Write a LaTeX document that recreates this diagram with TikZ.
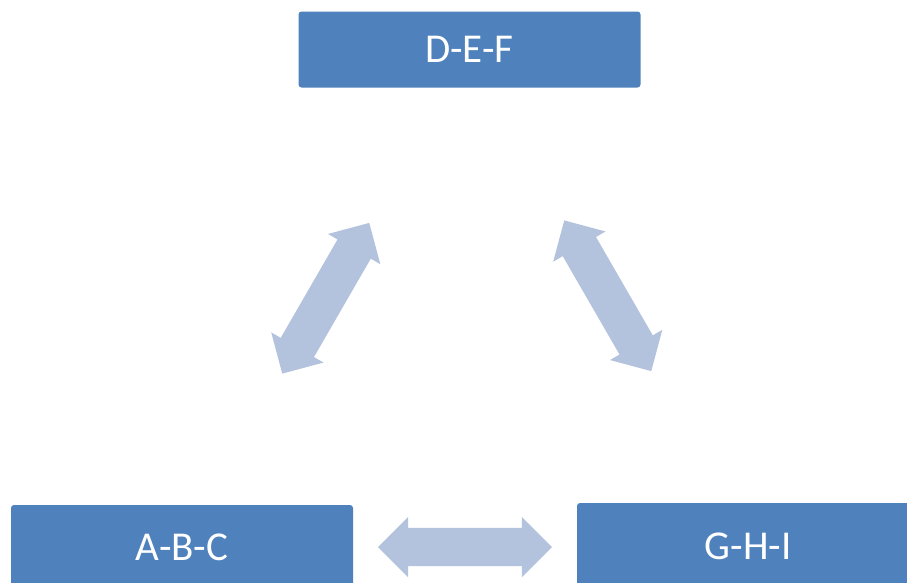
\documentclass[tikz,border=0pt]{standalone}
\usepackage{fontspec}
\setmainfont{Carlito}
\usetikzlibrary{shapes.arrows,calc}

\definecolor{boxblue}{RGB}{79,129,189}
\definecolor{arrowblue}{RGB}{179,194,221}

\begin{document}
\begin{tikzpicture}[
            x = 1pt, y = -1pt, % pixel units, y downwards
            box/.style = {rectangle, rounded corners=3pt, fill=boxblue, text=white,
                          minimum width=342pt, minimum height=76pt, inner sep=0pt,
                          font=\fontsize{41}{49}\selectfont}, % the three boxes
            dblarrow/.style = {double arrow, fill=arrowblue, inner xsep=0pt, inner ysep=19pt,
                          minimum height=174pt, double arrow head extend=11pt,
                          double arrow tip angle=90} % block arrows
        ]
	\useasboundingbox (0,0) rectangle (907,582);
	\clip (0,0) rectangle (907,582);

	\node[box] (DEF) at (469.5,49.5) {D-E-F};
	\node[box, minimum height=84pt] (ABC) at (182,547) {A-B-C};
	\node[box, minimum height=86pt] (GHI) at (748,546) {G-H-I};

	\node[dblarrow, rotate=60] (AD) at ($(ABC)!0.5!(DEF)$) {};
	\node[dblarrow, rotate=-60] (DG) at ($(DEF)!0.5!(GHI)+(-1,-2)$) {};
	\node[dblarrow] (AG) at ($(ABC)!0.5!(GHI)+(0,0.5)$) {};
\end{tikzpicture}
\end{document}
